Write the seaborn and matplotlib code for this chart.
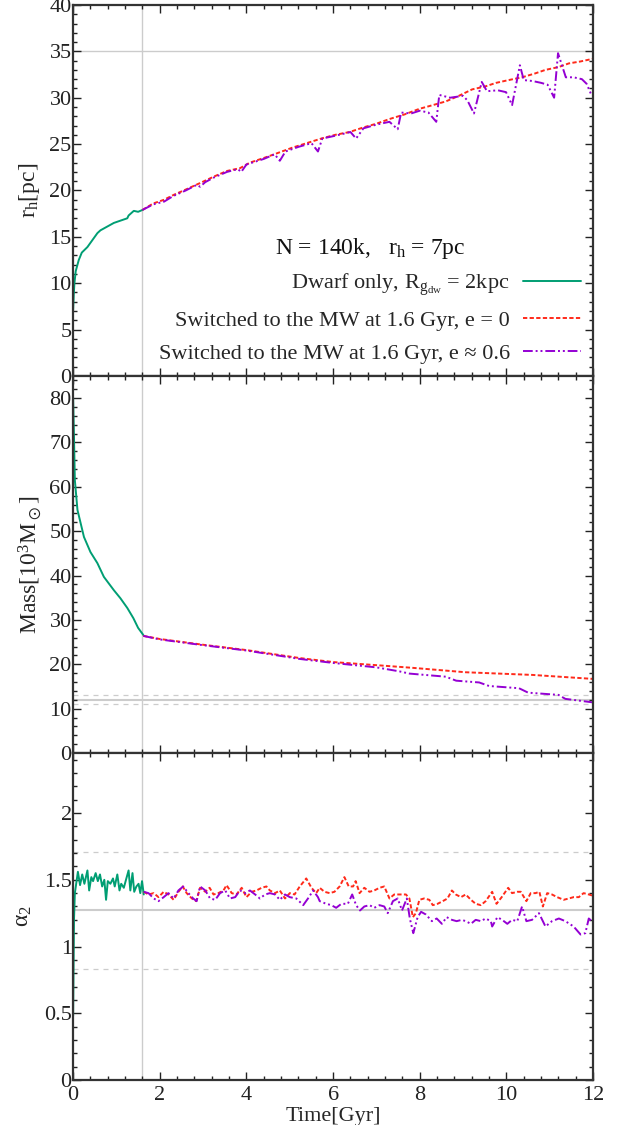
import numpy as np
import pandas as pd
import matplotlib
matplotlib.use("Agg")
import matplotlib.pyplot as plt
from matplotlib.ticker import MultipleLocator
import seaborn as sns

# ---- data ----
# half-mass radius [pc]
t_rh_dwarf = [0.0, 0.015, 0.03, 0.06, 0.13, 0.2, 0.33, 0.56, 0.63, 0.94, 1.25, 1.28, 1.40, 1.50, 1.60]
rh_dwarf = [7.1, 8.8, 10.0, 11.3, 12.5, 13.3, 13.9, 15.4, 15.7, 16.5, 17.0, 17.3, 17.8, 17.7, 17.9]

t_rh_e0 = [1.6, 1.85, 2.1, 2.31, 2.6, 2.93, 3.25, 3.55, 3.85, 4.08, 4.4, 4.7, 5.05, 5.39,
           5.73, 6.05, 6.38, 6.7, 7.0, 7.3, 7.65, 7.99, 8.3, 8.6, 8.9, 9.21, 9.5, 9.76,
           10.05, 10.36, 10.65, 10.9, 11.2, 11.44, 11.7, 12.0]
rh_e0 = [17.9, 18.6, 19.0, 19.5, 20.1, 20.8, 21.5, 22.1, 22.4, 23.0, 23.5, 24.0, 24.6, 25.1,
         25.6, 26.0, 26.3, 26.8, 27.2, 27.7, 28.2, 28.8, 29.2, 29.6, 30.2, 30.9, 31.2, 31.6,
         31.9, 32.2, 32.6, 33.0, 33.3, 33.7, 33.9, 34.2]

t_rh_e06 = [1.6, 1.85, 2.1, 2.31, 2.6, 2.85, 2.93, 3.05, 3.25, 3.55, 3.8, 3.88, 4.0, 4.4,
            4.65, 4.77, 4.9, 5.2, 5.5, 5.65, 5.75, 6.05, 6.4, 6.53, 6.7, 7.0, 7.3, 7.49,
            7.57, 7.8, 8.0, 8.2, 8.38, 8.45, 8.7, 9.0, 9.1, 9.25, 9.43, 9.55, 9.8, 9.99,
            10.13, 10.31, 10.4, 10.6, 10.8, 10.95, 11.1, 11.19, 11.37, 11.55, 11.74, 11.85, 11.95]
rh_e06 = [17.9, 18.5, 18.8, 19.4, 20.0, 20.6, 20.4, 20.9, 21.4, 22.0, 22.3, 22.0, 22.8, 23.4,
          23.9, 23.2, 24.2, 24.7, 25.1, 24.2, 25.6, 25.9, 26.3, 25.6, 26.7, 27.1, 27.4, 26.6,
          28.4, 28.3, 28.6, 28.4, 27.4, 30.3, 30.0, 30.2, 29.7, 28.3, 31.7, 30.7, 30.8, 30.6,
          29.2, 33.5, 31.9, 31.8, 31.6, 31.4, 30.0, 34.8, 32.2, 32.2, 32.0, 31.5, 30.4]

# mass [10^3 Msun]
t_m_dwarf = [0.0, 0.02, 0.04, 0.1, 0.25, 0.4, 0.56, 0.71, 0.94, 1.09, 1.25, 1.39, 1.5, 1.62]
m_dwarf = [80.0, 71.2, 61.5, 54.8, 48.7, 45.3, 42.8, 39.7, 36.7, 34.9, 32.7, 30.4, 28.2, 26.6]

t_m_e0 = [1.62, 2.0, 3.0, 4.0, 5.23, 6.0, 7.0, 7.83, 9.06, 10.6, 12.0]
m_e0 = [26.4, 25.7, 24.4, 23.2, 21.4, 20.5, 19.8, 19.2, 18.2, 17.6, 16.7]

t_m_e06 = [1.62, 2.0, 3.0, 4.0, 5.23, 6.0, 7.0, 7.53, 7.76, 8.6, 8.84, 9.37, 9.6, 10.29,
           10.5, 11.2, 11.36, 12.0]
m_e06 = [26.4, 25.6, 24.3, 23.1, 21.2, 20.3, 19.3, 18.4, 17.9, 17.2, 16.3, 15.9, 15.1, 14.6,
         13.6, 13.1, 12.2, 11.4]

# alpha_2
t_a_dwarf = [0.0, 0.02, 0.04, 0.11, 0.16, 0.21, 0.26, 0.33, 0.37, 0.42, 0.46, 0.52, 0.57,
             0.62, 0.67, 0.72, 0.76, 0.80, 0.86, 0.92, 0.96, 1.02, 1.07, 1.11, 1.17, 1.22,
             1.28, 1.32, 1.37, 1.41, 1.46, 1.51, 1.55, 1.59, 1.63]
a_dwarf = [0.48, 1.20, 1.40, 1.56, 1.46, 1.54, 1.47, 1.57, 1.42, 1.52, 1.49, 1.55, 1.49,
           1.54, 1.45, 1.50, 1.35, 1.49, 1.47, 1.51, 1.45, 1.54, 1.42, 1.47, 1.44, 1.50,
           1.57, 1.42, 1.55, 1.41, 1.45, 1.47, 1.40, 1.49, 1.39]

t_a_e0 = [1.63, 1.74, 1.86, 1.97, 2.09, 2.20, 2.32, 2.43, 2.53, 2.62, 2.74, 2.84, 2.93, 3.05,
          3.15, 3.24, 3.35, 3.47, 3.54, 3.66, 3.77, 3.89, 4.00, 4.12, 4.23, 4.35, 4.46, 4.54,
          4.66, 4.77, 4.89, 5.00, 5.11, 5.23, 5.38, 5.50, 5.61, 5.69, 5.80, 5.92, 6.03, 6.15,
          6.26, 6.36, 6.46, 6.52, 6.61, 6.72, 6.84, 6.95, 7.07, 7.18, 7.30, 7.41, 7.57, 7.68,
          7.76, 7.84, 7.91, 7.99, 8.10, 8.22, 8.30, 8.41, 8.53, 8.64, 8.74, 8.83, 8.95, 9.06,
          9.18, 9.29, 9.41, 9.52, 9.67, 9.77, 9.89, 10.04, 10.13, 10.25, 10.33, 10.46, 10.56,
          10.67, 10.76, 10.84, 10.94, 11.05, 11.17, 11.32, 11.44, 11.55, 11.67, 11.78, 11.90, 12.0]
a_e0 = [1.41, 1.39, 1.40, 1.37, 1.41, 1.39, 1.35, 1.41, 1.45, 1.40, 1.36, 1.34, 1.44, 1.41,
        1.44, 1.39, 1.40, 1.42, 1.46, 1.40, 1.39, 1.44, 1.37, 1.41, 1.42, 1.44, 1.45, 1.42,
        1.40, 1.42, 1.36, 1.40, 1.39, 1.45, 1.51, 1.44, 1.40, 1.44, 1.41, 1.40, 1.41, 1.45,
        1.52, 1.45, 1.45, 1.49, 1.40, 1.44, 1.41, 1.42, 1.44, 1.45, 1.36, 1.39, 1.39, 1.39,
        1.36, 1.22, 1.25, 1.35, 1.36, 1.35, 1.31, 1.32, 1.34, 1.36, 1.42, 1.39, 1.37, 1.39,
        1.35, 1.32, 1.31, 1.34, 1.41, 1.32, 1.37, 1.44, 1.40, 1.41, 1.41, 1.34, 1.40,
        1.40, 1.41, 1.30, 1.40, 1.39, 1.37, 1.35, 1.36, 1.37, 1.37, 1.40, 1.39, 1.38]

t_a_e06 = [1.63, 1.74, 1.86, 1.97, 2.09, 2.20, 2.32, 2.43, 2.54, 2.66, 2.77, 2.85, 2.93, 3.05,
           3.16, 3.28, 3.39, 3.51, 3.62, 3.74, 3.85, 3.97, 4.08, 4.20, 4.31, 4.43, 4.54, 4.66,
           4.77, 4.89, 5.00, 5.15, 5.31, 5.42, 5.54, 5.65, 5.69, 5.84, 5.96, 6.07, 6.19, 6.34,
           6.44, 6.53, 6.62, 6.72, 6.84, 6.95, 7.07, 7.18, 7.26, 7.38, 7.49, 7.59, 7.70, 7.77,
           7.85, 7.95, 8.03, 8.14, 8.28, 8.39, 8.51, 8.62, 8.74, 8.85, 8.97, 9.06, 9.18, 9.29,
           9.41, 9.52, 9.64, 9.67, 9.79, 9.90, 10.02, 10.13, 10.25, 10.36, 10.46, 10.59, 10.75,
           10.90, 11.05, 11.21, 11.36, 11.55, 11.71, 11.82, 11.90, 11.97]
a_e06 = [1.41, 1.40, 1.36, 1.34, 1.37, 1.40, 1.36, 1.42, 1.45, 1.40, 1.36, 1.34, 1.45, 1.42,
         1.36, 1.35, 1.40, 1.42, 1.36, 1.37, 1.42, 1.40, 1.42, 1.39, 1.36, 1.39, 1.40, 1.39,
         1.35, 1.39, 1.37, 1.36, 1.31, 1.36, 1.42, 1.37, 1.34, 1.32, 1.31, 1.29, 1.32, 1.32,
         1.39, 1.31, 1.27, 1.30, 1.31, 1.29, 1.31, 1.30, 1.25, 1.34, 1.36, 1.27, 1.36, 1.21,
         1.10, 1.22, 1.26, 1.24, 1.19, 1.21, 1.17, 1.22, 1.20, 1.19, 1.20, 1.19, 1.17, 1.20,
         1.19, 1.21, 1.19, 1.15, 1.22, 1.20, 1.17, 1.20, 1.19, 1.30, 1.19, 1.20, 1.25,
         1.15, 1.19, 1.21, 1.19, 1.15, 1.09, 1.10, 1.21, 1.19]

# reference levels
t_switch = 1.6
rh_ref = 35
mass_ref, mass_band = 12.0, (11.0, 13.0)
alpha_ref, alpha_band = 1.27, (0.83, 1.71)

labels = ["Dwarf only, $\\mathregular{R_{g_{dw}}}$ = 2kpc",
          "Switched to the MW at 1.6 Gyr, e = 0",
          "Switched to the MW at 1.6 Gyr, e \u2248 0.6"]
legend_title = "N = 140k,   r$\\mathregular{_h}$ = 7pc"

# ---- style ----
sns.set_theme(style="ticks")
plt.rcParams["font.family"] = ["Liberation Serif", "DejaVu Serif"]
plt.rcParams["mathtext.fontset"] = "stix"
plt.rcParams["font.size"] = 16

green = "#009E73"
red = "#FF2A1A"
purple = "#9400D3"
ref_c = "#cccccc"
dash_red = (0, (2.2, 1.2))
dash_purple = (0, (5, 1.5, 1, 1.5, 1, 1.5))
lw = 1.4

fig, axes = plt.subplots(3, 1, figsize=(6.25, 11.25), sharex=True,
                         gridspec_kw=dict(height_ratios=[371, 377, 327]))
fig.subplots_adjust(left=0.117, right=0.949, top=0.9956, bottom=0.04, hspace=0)
ax1, ax2, ax3 = axes

panels = [
    (ax1, (t_rh_dwarf, rh_dwarf), (t_rh_e0, rh_e0), (t_rh_e06, rh_e06)),
    (ax2, (t_m_dwarf, m_dwarf), (t_m_e0, m_e0), (t_m_e06, m_e06)),
    (ax3, (t_a_dwarf, a_dwarf), (t_a_e0, a_e0), (t_a_e06, a_e06)),
]

for i, (ax, d, r, p) in enumerate(panels):
    ax.axvline(t_switch, color=ref_c, lw=1, zorder=0)
    lab = labels if i == 0 else [None, None, None]
    sns.lineplot(x=d[0], y=d[1], ax=ax, color=green, lw=lw, label=lab[0], sort=False)
    sns.lineplot(x=r[0], y=r[1], ax=ax, color=red, lw=lw, linestyle=dash_red,
                 label=lab[1], sort=False)
    sns.lineplot(x=p[0], y=p[1], ax=ax, color=purple, lw=lw, linestyle=dash_purple,
                 label=lab[2], sort=False)

ax1.axhline(rh_ref, color=ref_c, lw=1, zorder=0)
ax2.axhline(mass_ref, color=ref_c, lw=1.5, zorder=0)
for v in mass_band:
    ax2.axhline(v, color=ref_c, lw=0.9, ls=(0, (4, 4)), zorder=0)
ax3.axhline(alpha_ref, color=ref_c, lw=1.5, zorder=0)
for v in alpha_band:
    ax3.axhline(v, color=ref_c, lw=0.9, ls=(0, (4, 4)), zorder=0)

ax1.set_ylim(0, 40)
ax1.yaxis.set_major_locator(MultipleLocator(5))
ax1.yaxis.set_minor_locator(MultipleLocator(1))
ax1.set_ylabel("r$\\mathregular{_h}$[pc]")

ax2.set_ylim(0, 85)
ax2.yaxis.set_major_locator(MultipleLocator(10))
ax2.yaxis.set_minor_locator(MultipleLocator(2))
ax2.set_ylabel("Mass[10$\\mathregular{^3}$M$_\\odot$]")

ax3.set_ylim(0, 2.45)
ax3.yaxis.set_major_locator(MultipleLocator(0.5))
ax3.yaxis.set_minor_locator(MultipleLocator(0.1))
ax3.yaxis.set_major_formatter(plt.FuncFormatter(lambda v, _: f"{v:g}"))
ax3.set_ylabel("\u03b1$\\mathregular{_2}$")

ax3.set_xlim(0, 12)
ax3.xaxis.set_major_locator(MultipleLocator(2))
ax3.xaxis.set_minor_locator(MultipleLocator(0.4))
ax3.set_xlabel("Time[Gyr]", labelpad=2)

for ax in axes:
    ax.tick_params(which="both", direction="in", top=True, right=True, colors="#222222",
                   labelsize=16, pad=1)
    ax.tick_params(which="major", length=6, width=1)
    ax.tick_params(which="minor", length=3, width=1)
    for s in ax.spines.values():
        s.set_linewidth(1.6)
        s.set_color("#333333")
    ax.yaxis.label.set_size(17)
ax3.tick_params(axis="x", pad=4)
ax3.xaxis.label.set_size(16)
ax1.yaxis.set_label_coords(-0.06, 0.5)
ax2.yaxis.set_label_coords(-0.056, 0.5)
ax3.yaxis.set_label_coords(-0.076, 0.5)

leg = ax1.legend(loc="lower right", markerfirst=False, frameon=False, title=legend_title,
                 fontsize=16, title_fontsize=17, handlelength=2.6, labelspacing=0.55,
                 borderaxespad=0.15, handletextpad=0.6)
leg._legend_box.sep = 8
for col in leg._legend_handle_box.get_children():
    col.align = "right"
leg._legend_title_box._text.set_color("#111111")

fig.savefig("out.png", dpi=100)
